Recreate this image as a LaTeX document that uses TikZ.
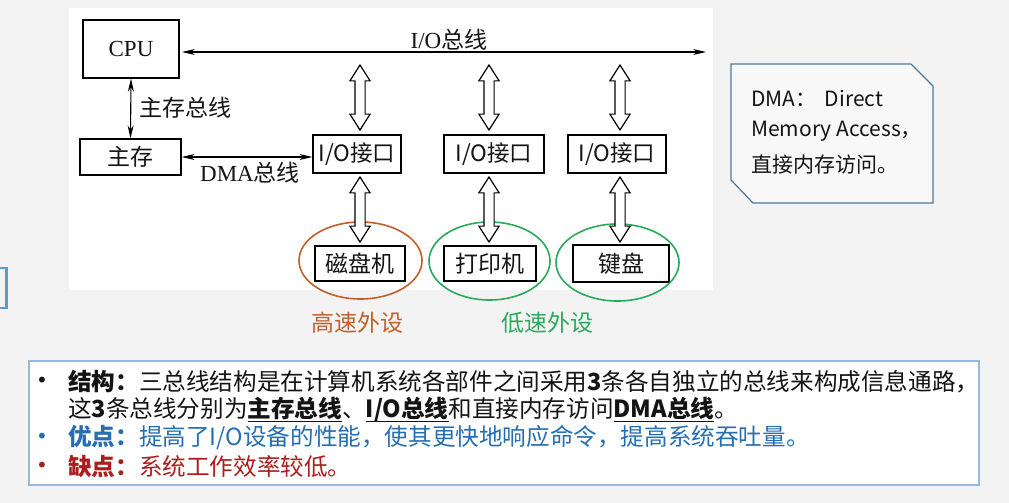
\documentclass[tikz,border=0pt]{standalone}
\usepackage{fontspec}
\setmainfont{Liberation Serif}
\newfontfamily\cjk{Noto Sans CJK SC}
\newfontfamily\bulletfont{DejaVu Sans}
\usetikzlibrary{arrows.meta,shapes.arrows,shapes.geometric}
\definecolor{bgc}{RGB}{243,243,243}
\definecolor{txt}{RGB}{20,20,20}
\definecolor{orangec}{RGB}{192,96,40}
\definecolor{greenc}{RGB}{40,170,90}
\definecolor{calloutc}{RGB}{80,120,150}
\definecolor{boxc}{RGB}{150,185,220}
\definecolor{bluet}{RGB}{38,110,180}
\definecolor{redt}{RGB}{172,30,30}
\definecolor{slideblue}{RGB}{91,155,213}
\newcommand\myul[1]{\setbox0\hbox{#1}\rlap{\rule[-4pt]{\wd0}{1.3pt}}\box0}
\begin{document}
\begin{tikzpicture}[x=1pt,y=-1pt,
  every node/.style={font=\fontsize{23}{27}\selectfont, text=txt},
  box/.style={draw=black, line width=1.2pt, inner sep=0pt, fill=white},
  busarrow/.style={line width=1.1pt, {Stealth[length=13pt,width=6pt]}-{Stealth[length=13pt,width=6pt]}},
  hollow/.style={double arrow, draw=black, fill=white, line width=1.2pt, shape border rotate=90,
     inner sep=4.5pt, minimum height=65pt, double arrow head extend=5pt, double arrow tip angle=65},
  ring/.style={ellipse, draw, line width=1.6pt, inner sep=0pt},
  bline/.style={anchor=west, inner sep=0pt, font=\cjk\fontsize{23.6}{27}\selectfont},
  bullet/.style={inner sep=0pt, font=\bulletfont\fontsize{20}{24}\selectfont}
]
\useasboundingbox (0,0) rectangle (1009,503);
\fill[bgc] (0,0) rectangle (1009,503);
\fill[white] (69,8) rectangle (713,290);
\draw[slideblue, line width=2.5pt] (-20,268) rectangle (6.5,308);

% boxes
\node[box, minimum width=96pt, minimum height=58pt] (cpu) at (131,49) {CPU};
\node[box, minimum width=101pt, minimum height=36pt] (mem) at (130.5,157) {\cjk 主存};
\node[box, minimum width=88pt, minimum height=38pt] (io1) at (357,154) {\cjk\fontsize{22.5}{26}\selectfont I/O接口};
\node[box, minimum width=100pt, minimum height=38pt] (io2) at (494,154) {\cjk\fontsize{22.5}{26}\selectfont I/O接口};
\node[box, minimum width=98pt, minimum height=38pt] (io3) at (617,154) {\cjk\fontsize{22.5}{26}\selectfont I/O接口};
\node[box, minimum width=90pt, minimum height=35pt] (dev1) at (360,263.5) {\cjk 磁盘机};
\node[box, minimum width=92pt, minimum height=35pt] (dev2) at (490,263.5) {\cjk 打印机};
\node[box, minimum width=96pt, minimum height=37pt] (dev3) at (621,263.5) {\cjk 键盘};

% ellipses
\node[ring, draw=orangec, minimum width=123pt, minimum height=77pt] (e1) at (360.5,260.5) {};
\node[ring, draw=greenc, minimum width=121pt, minimum height=78pt] (e2) at (489.5,261) {};
\node[ring, draw=greenc, minimum width=123pt, minimum height=77pt] (e3) at (617.5,262.5) {};
\node[text=orangec, font=\cjk\fontsize{23}{27}\selectfont] (l1) at (357,323) {高速外设};
\node[text=greenc, font=\cjk\fontsize{23}{27}\selectfont] (l2) at (547,323) {低速外设};

% buses
\coordinate (busR) at (706,52);
\coordinate (busL) at (182,52);
\draw[busarrow] (busL) -- (busR);
\node (iobus) at (449,40) {I/O{\cjk 总线}};
\draw[busarrow] (cpu.south) -- (mem.north);
\node[anchor=west] (mbus) at (136,108) {\cjk 主存总线};
\draw[busarrow] (mem.east) -- (mem.east -| io1.west);
\node (dbus) at (250,173) {DMA{\cjk 总线}};

% hollow arrows
\node[hollow] (h1) at (360,97.5) {};
\node[hollow] (h2) at (489,97.5) {};
\node[hollow] (h3) at (620,97.5) {};
\node[hollow] (g1) at (360,209.5) {};
\node[hollow] (g2) at (489,209.5) {};
\node[hollow] (g3) at (620,209.5) {};

% callout
\draw[calloutc, line width=1.2pt, fill=bgc!60!white] (731,64) -- (911,64) -- (933,86) -- (933,203) -- (753,203) -- (731,180) -- cycle;
\node[bline, font=\cjk\fontsize{21}{25}\selectfont] (c1) at (751,98) {DMA：\hspace{0.4em}Direct};
\node[bline, font=\cjk\fontsize{21}{25}\selectfont] (c2) at (751,131) {Memory Access，};
\node[bline, font=\cjk\fontsize{21}{25}\selectfont] (c3) at (751,165) {直接内存访问。};

% bottom box
\draw[boxc, line width=1.2pt, fill=white] (29,361) rectangle (979,485);
\node[bullet] (b1) at (42,382) {•};
\node[bline] (t1) at (68,382) {{\bfseries 结构：}三总线结构是在计算机系统各部件之间采用{\bfseries 3}条各自独立的总线来构成信息通路，};
\node[bline] (t2) at (68,410) {这{\bfseries 3}条总线分别为\myul{\bfseries 主存总线}、\myul{\bfseries I/O总线}和直接内存访问\myul{\bfseries DMA总线}。};
\node[bullet, text=bluet] (b3) at (42,438) {•};
\node[bline, text=bluet] (t3) at (68,438) {{\bfseries 优点：}提高了I/O设备的性能，使其更快地响应命令，提高系统吞吐量。};
\node[bullet, text=redt] (b4) at (42,467) {•};
\node[bline, text=redt] (t4) at (68,467) {{\bfseries 缺点：}系统工作效率较低。};
\end{tikzpicture}
\end{document}
